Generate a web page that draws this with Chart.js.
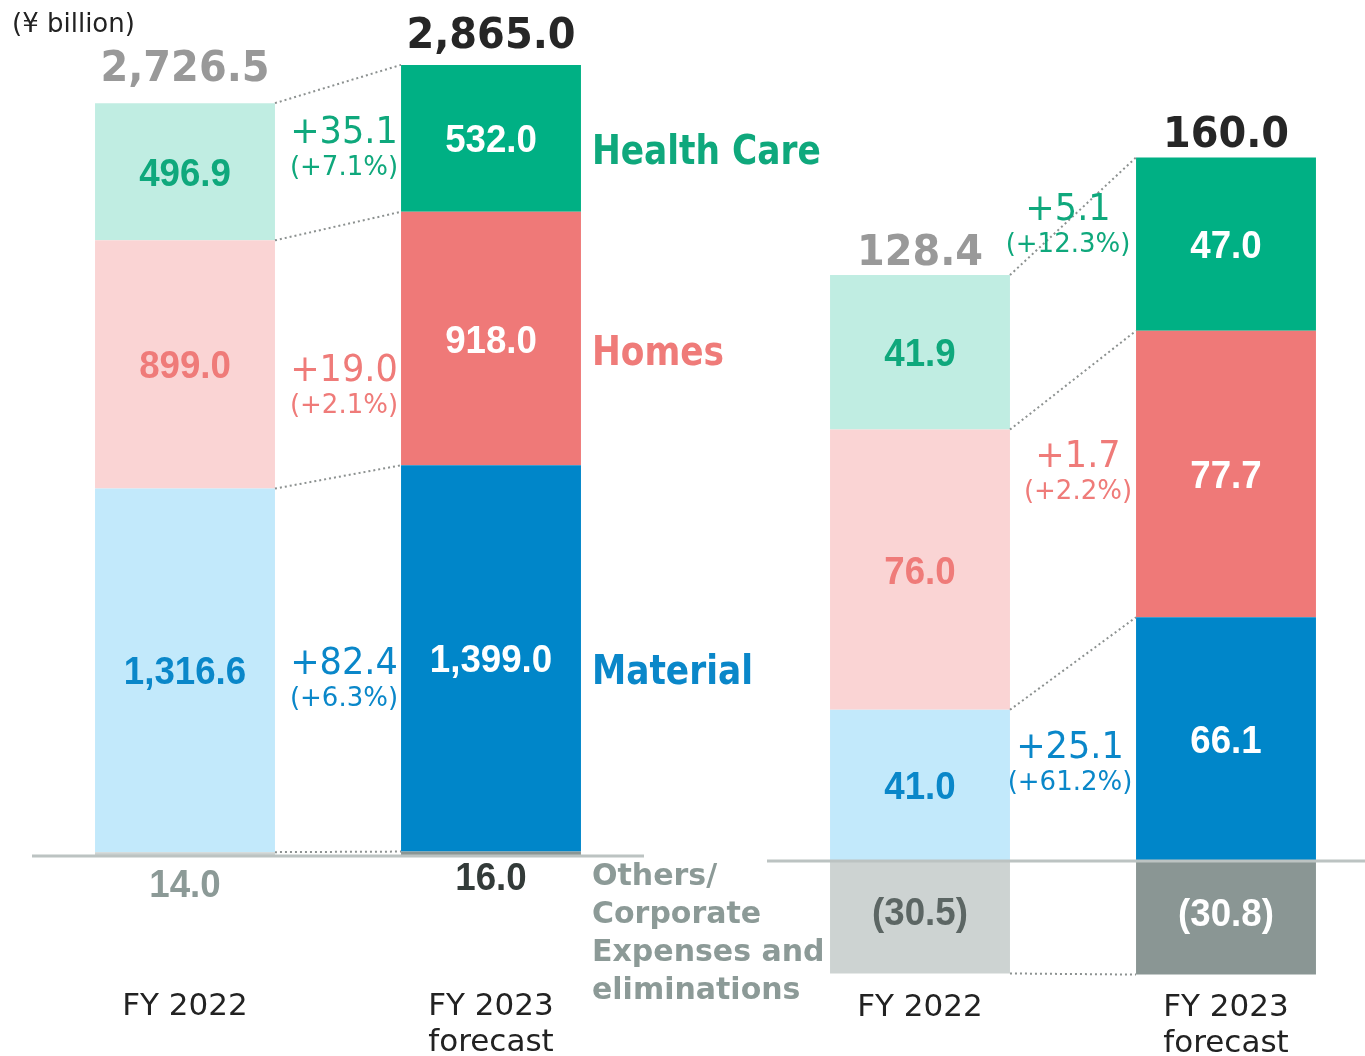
<!DOCTYPE html>
<html lang="en">
<head>
<meta charset="UTF-8">
<title>Net sales and operating income by segment</title>
<script src="https://cdn.jsdelivr.net/npm/chart.js"></script>
<style>
    body { margin: 0; background: #fff; overflow: hidden; width: 1365px; height: 1056px; position: relative; }
    canvas { position: absolute; top: 0; }
    #salesChart { left: 0; }
    #incomeChart { left: 700px; }
</style>
</head>
<body>
<canvas id="salesChart" width="840" height="1056"></canvas>
<canvas id="incomeChart" width="700" height="1056"></canvas>

<script>
    // categories and segments (stack order: bottom to top)
    const years = ['FY 2022', ['FY 2023', 'forecast']];
    const segments = ['Others/Corporate Expenses and eliminations', 'Material', 'Homes', 'Health Care'];
    const othersLines = ['Others/', 'Corporate', 'Expenses and', 'eliminations'];

    // net sales (¥ billion)
    const salesOthers = [14.0, 16.0];
    const salesMaterial = [1316.6, 1399.0];
    const salesHomes = [899.0, 918.0];
    const salesHealth = [496.9, 532.0];
    const salesTotal = [2726.5, 2865.0];
    const salesChange = [82.4, 19.0, 35.1];      // material, homes, health care
    const salesChangePct = [6.3, 2.1, 7.1];

    // operating income (¥ billion)
    const incomeOthers = [-30.5, -30.8];
    const incomeMaterial = [41.0, 66.1];
    const incomeHomes = [76.0, 77.7];
    const incomeHealth = [41.9, 47.0];
    const incomeTotal = [128.4, 160.0];
    const incomeChange = [25.1, 1.7, 5.1];
    const incomeChangePct = [61.2, 2.2, 12.3];

    const lightColors = ['#cdd3d2', '#c2e9fb', '#fad4d4', '#c0ede2'];
    const darkColors = ['#8a9694', '#0086c9', '#ef7978', '#00b084'];
    const textColors = ['#8c9a97', '#0a87c9', '#ef7b79', '#0fa87c'];

    const SANS = '"DejaVu Sans", Verdana, sans-serif';
    const ARIAL = '"Liberation Sans", Arial, sans-serif';

    const incomeMax = 233.5, incomeMin = -50;

    function fmt(v) {
        const s = Math.abs(v).toLocaleString('en-US', { minimumFractionDigits: 1, maximumFractionDigits: 1 });
        return v < 0 ? '(' + s + ')' : s;
    }

    function text(ctx, str, x, y, font, color, align, squeeze) {
        ctx.font = font;
        ctx.fillStyle = color;
        ctx.textAlign = align || 'center';
        ctx.textBaseline = 'alphabetic';
        const w = ctx.measureText(str).width * (squeeze || 1);
        ctx.fillText(str, x, y, w);
    }

    function line(ctx, x1, y1, x2, y2) {
        ctx.beginPath();
        ctx.moveTo(x1, y1);
        ctx.lineTo(x2, y2);
        ctx.stroke();
    }

    function annotate(lay) {
        return {
            id: 'annotate',
            afterDatasetsDraw(chart) {
                const ctx = chart.ctx;
                const area = chart.chartArea;
                const yScale = chart.scales.y;
                const metas = chart.data.datasets.map((d, i) => chart.getDatasetMeta(i));
                const y0 = yScale.getPixelForValue(0);
                ctx.save();

                // zero line
                ctx.strokeStyle = '#bcc3c2';
                ctx.lineWidth = 3;
                line(ctx, area.left, y0, area.right, y0);

                // dotted connectors between the two bars
                ctx.setLineDash([2, 3]);
                ctx.lineWidth = 2;
                ctx.strokeStyle = '#8c9190';
                metas.forEach(m => {
                    const a = m.data[0], b = m.data[1];
                    line(ctx, a.x + a.width / 2, a.y, b.x - b.width / 2, b.y);
                });
                ctx.setLineDash([]);

                // values in the segments
                metas.forEach((m, di) => {
                    m.data.forEach((el, i) => {
                        const v = chart.data.datasets[di].data[i];
                        let color = i === 0 ? textColors[di] : '#ffffff';
                        let y = (el.y + el.base) / 2 + 14;
                        if (di === 0) {
                            if (lay.othersBelow) {
                                y = y0 + lay.othersGap[i];
                                color = i === 0 ? '#8c9a97' : '#333b39';
                            } else {
                                y -= 6;
                                color = i === 0 ? '#5c6664' : '#ffffff';
                            }
                        }
                        text(ctx, fmt(v), el.x, y, 'bold 39px ' + ARIAL, color, 'center', 0.94);
                    });
                });

                // totals above the bars
                const top = metas[metas.length - 1].data;
                lay.total.forEach((t, i) => {
                    text(ctx, fmt(t), top[i].x, top[i].y - lay.totalGap[i], 'bold 42px ' + SANS,
                        i === 0 ? '#999999' : '#262626', 'center', 0.95);
                });

                // change between the two years
                lay.change.forEach((c, k) => {
                    const a = metas[k + 1].data[0], b = metas[k + 1].data[1];
                    const cx = (a.x + a.width / 2 + b.x - b.width / 2) / 2 + lay.changeDx[k];
                    const by = lay.changeY[k];
                    text(ctx, '+' + c.toFixed(1), cx, by, '37px ' + SANS, textColors[k + 1], 'center', 0.95);
                    text(ctx, '(+' + lay.changePct[k].toFixed(1) + '%)', cx, by + 32, '26px ' + SANS, textColors[k + 1], 'center', 1);
                });

                // segment names
                if (lay.names) {
                    for (let di = 1; di < metas.length; di++) {
                        const el = metas[di].data[1];
                        text(ctx, segments[di], el.x + el.width / 2 + 11, (el.y + el.base) / 2 + 26,
                            'bold 40px ' + SANS, textColors[di], 'left', 0.86);
                    }
                    const el = metas[1].data[1];
                    othersLines.forEach((s, k) => {
                        text(ctx, s, el.x + el.width / 2 + 11, 885 + k * 38, 'bold 30px ' + SANS, '#8c9a97', 'left', 1);
                    });
                    text(ctx, '(¥ billion)', 12, 32, '26px ' + SANS, '#222222', 'left', 1);
                }

                // x labels
                metas[0].data.forEach((el, i) => {
                    const lbl = [].concat(years[i]);
                    lbl.forEach((s, k) => {
                        text(ctx, s, el.x, lay.xLabelY + k * 36, '31px ' + SANS, '#222222', 'center', 1);
                    });
                });

                ctx.restore();
            }
        };
    }

    function makeChart(id, values, yMin, yMax, padding, lay) {
        const ctx = document.getElementById(id).getContext('2d');
        return new Chart(ctx, {
            type: 'bar',
            data: {
                labels: years,
                datasets: values.map((v, i) => ({
                    label: segments[i],
                    data: v,
                    backgroundColor: [lightColors[i], darkColors[i]],
                    borderWidth: 0,
                    barPercentage: 0.588,
                    categoryPercentage: 1.0
                }))
            },
            options: {
                responsive: false,
                animation: false,
                devicePixelRatio: 1,
                layout: { padding: padding },
                plugins: {
                    legend: { display: false },
                    tooltip: { enabled: false }
                },
                scales: {
                    x: { stacked: true, display: false },
                    y: { stacked: true, display: false, min: yMin, max: yMax }
                }
            },
            plugins: [annotate(lay)]
        });
    }

    makeChart('salesChart',
        [salesOthers, salesMaterial, salesHomes, salesHealth],
        0, 3100,
        { left: 32, right: 196, top: 0, bottom: 200 },
        {
            total: salesTotal, totalGap: [22, 17],
            change: salesChange, changePct: salesChangePct,
            changeDx: [6, 6, 6], changeY: [674, 381, 143],
            othersBelow: true, othersGap: [41, 34],
            names: true, xLabelY: 1015
        });

    makeChart('incomeChart',
        [incomeOthers, incomeMaterial, incomeHomes, incomeHealth],
        incomeMin, incomeMax,
        { left: 67, right: 21, top: 0, bottom: 1056 - 861 * (incomeMax - incomeMin) / incomeMax },
        {
            total: incomeTotal, totalGap: [10, 10],
            change: incomeChange, changePct: incomeChangePct,
            changeDx: [-3, 5, -5], changeY: [758, 467, 220],
            othersBelow: false,
            names: false, xLabelY: 1016
        });
</script>
</body>
</html>
